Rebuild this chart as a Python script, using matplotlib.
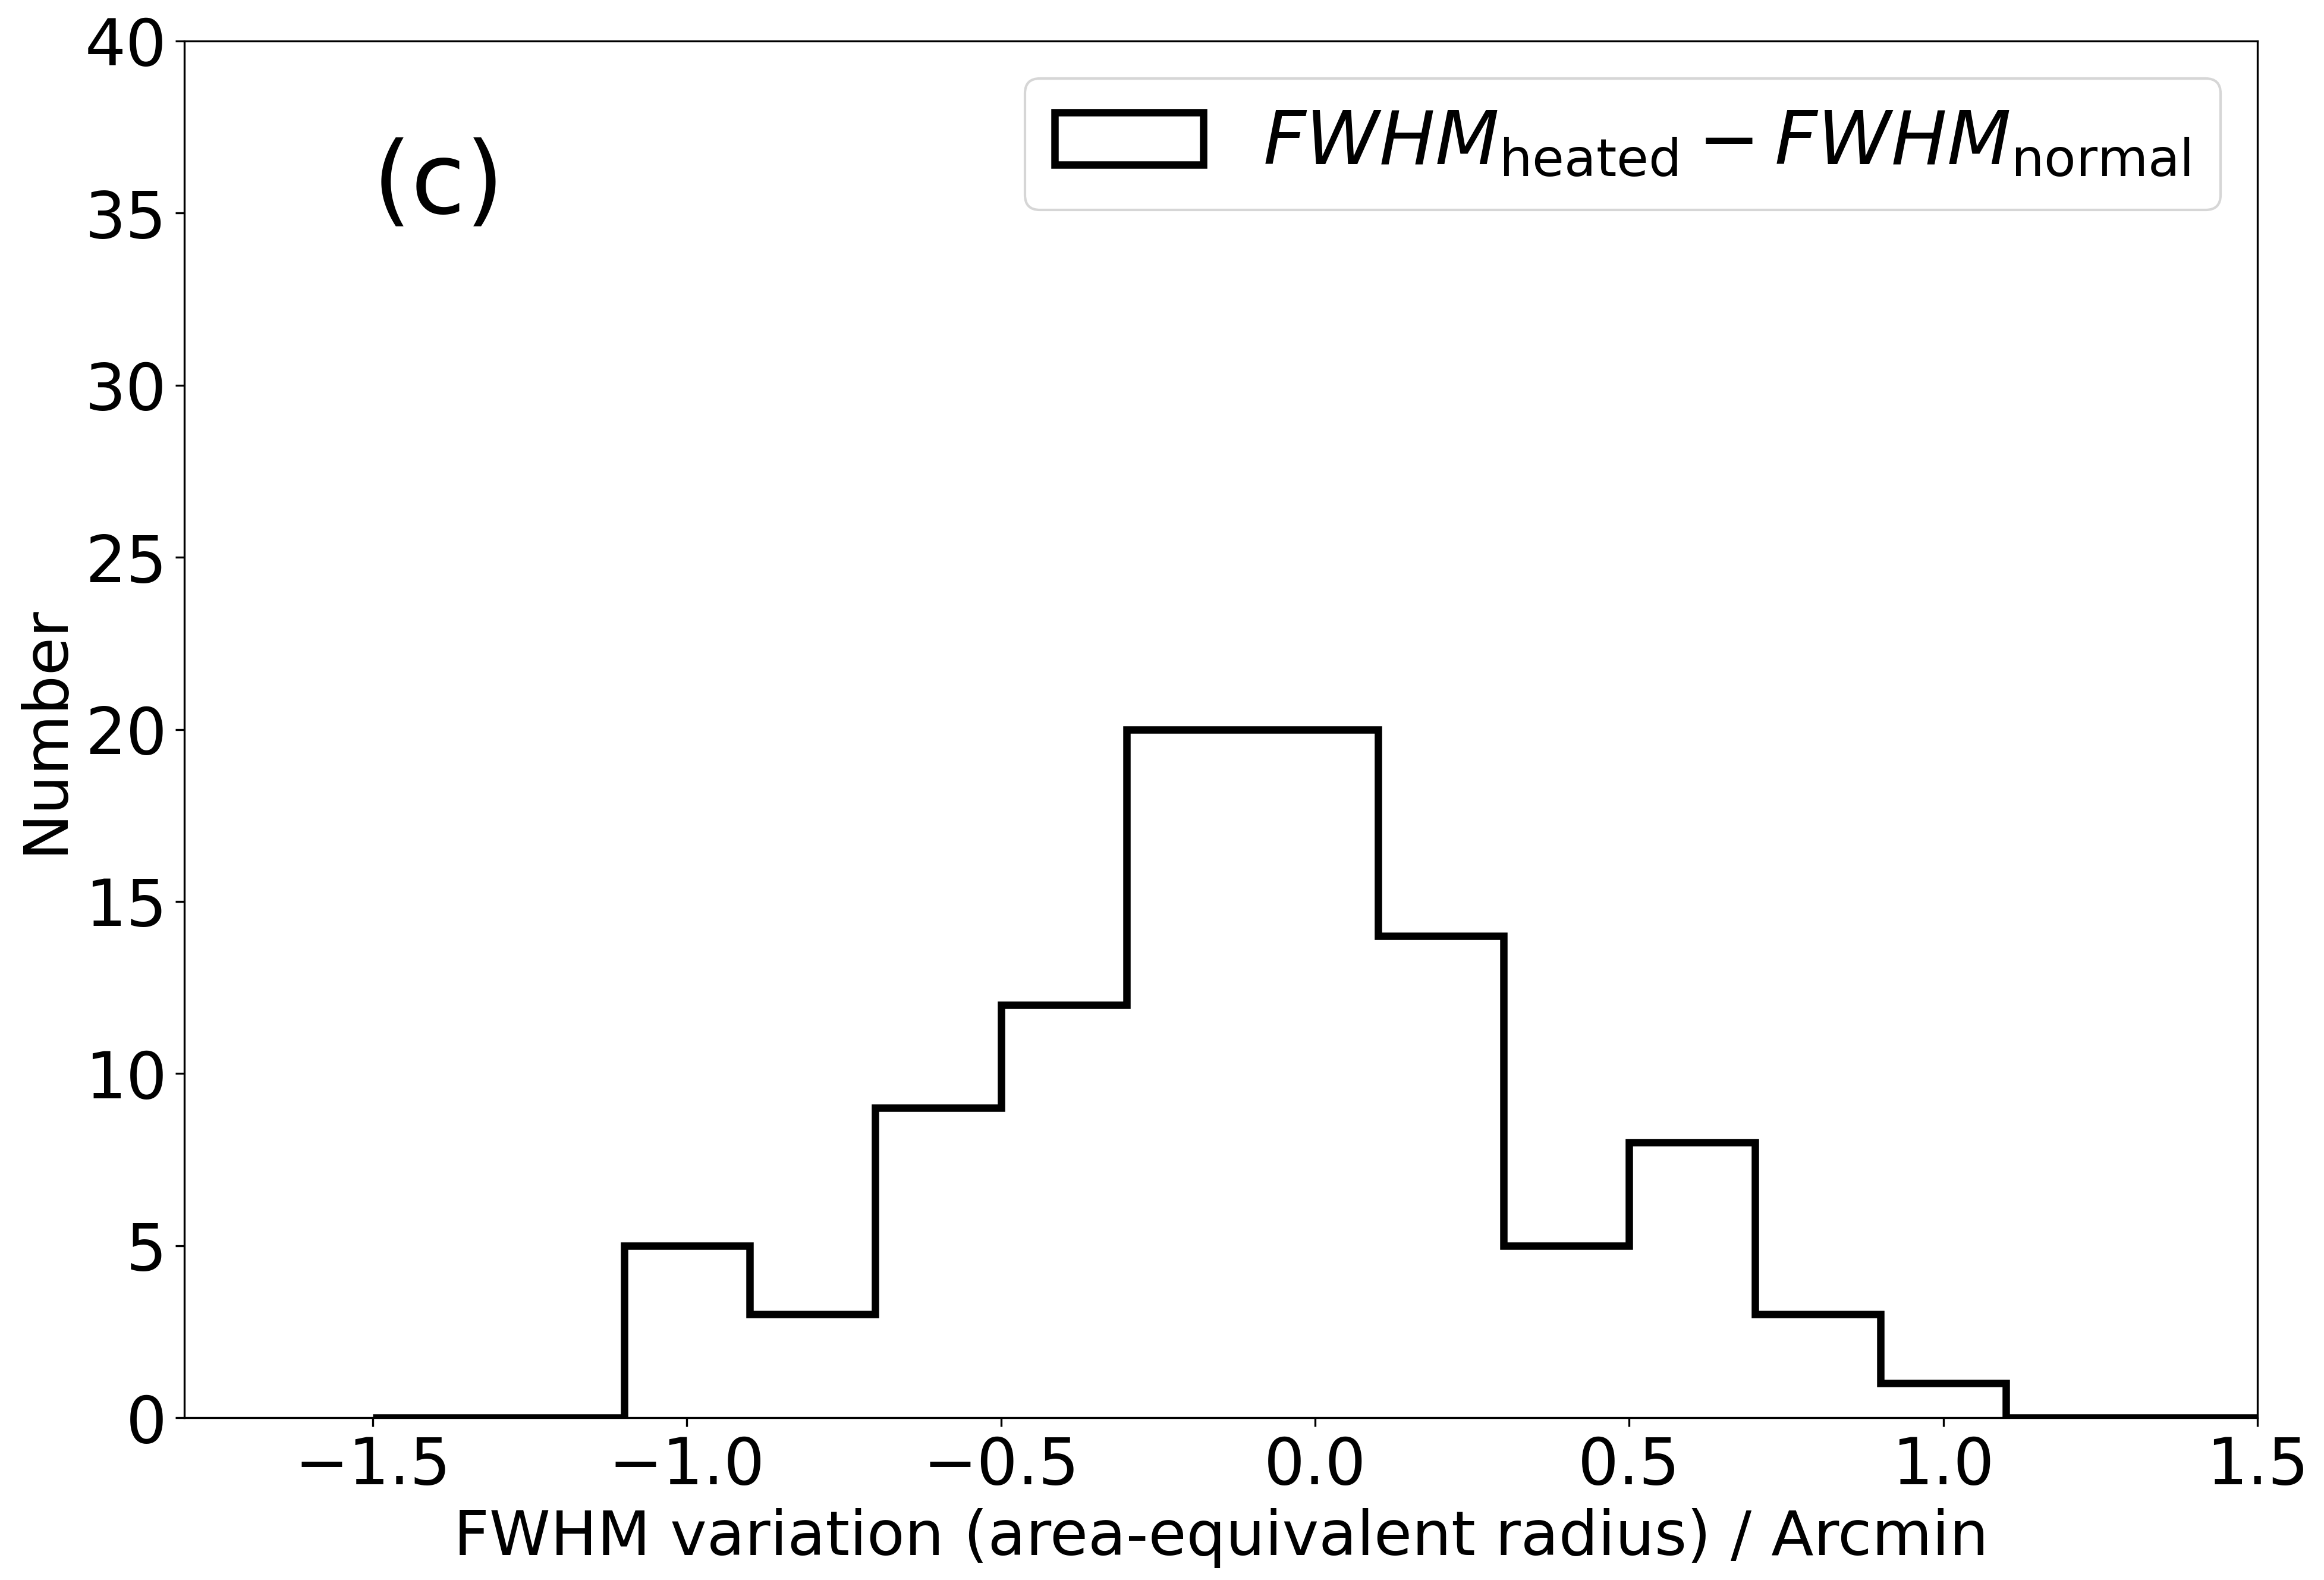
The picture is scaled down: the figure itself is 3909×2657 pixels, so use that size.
import matplotlib
matplotlib.use("Agg")
import matplotlib.pyplot as plt
import numpy as np

bin_edges = [-1.5, -1.3, -1.1, -0.9, -0.7, -0.5, -0.3, -0.1, 0.1, 0.3, 0.5, 0.7, 0.9, 1.1, 1.3, 1.5]
counts = [0, 0, 5, 3, 9, 12, 20, 20, 14, 5, 8, 3, 1, 0, 0]
x_ticks = [-1.5, -1.0, -0.5, 0.0, 0.5, 1.0, 1.5]
y_ticks = [0, 5, 10, 15, 20, 25, 30, 35, 40]
legend_label = r'$FWHM_{\rm heated} - FWHM_{\rm normal}$'

W, H = 3909, 2657
dpi = 300
fig = plt.figure(figsize=(W / dpi, H / dpi), dpi=dpi)
ax = fig.add_axes([310 / W, 1 - 2384 / H, (3797 - 310) / W, (2384 - 69) / H])

edges = np.array(bin_edges)
ax.hist(edges[:-1], bins=edges, weights=counts, histtype='step',
        color='black', linewidth=3, label=legend_label)

ax.set_xlim(-1.8, 1.5)
ax.set_ylim(0, 40)
ax.set_xticks(x_ticks)
ax.set_yticks(y_ticks)
ax.tick_params(labelsize=26)
ax.set_xlabel('FWHM variation (area-equivalent radius) / Arcmin', fontsize=25, labelpad=4)
ax.set_ylabel('Number', fontsize=25)
ax.text(-1.5, 35, '(c)', fontsize=40)
ax.legend(loc='upper right', fontsize=30)

fig.savefig('out.png', dpi=dpi)
